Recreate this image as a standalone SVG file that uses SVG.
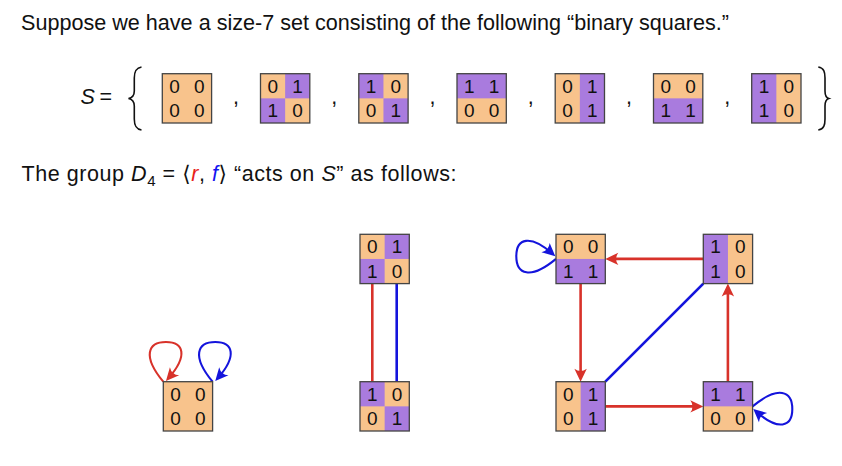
<svg xmlns="http://www.w3.org/2000/svg" width="842" height="466" viewBox="0 0 842 466">
<style>
.t{font-family:"Liberation Sans","DejaVu Sans",sans-serif;font-size:21.5px;fill:#111}
.m{font-family:"Liberation Sans","DejaVu Sans",sans-serif;font-size:21.5px;fill:#111}
.o{fill:#F8C38C}
.p{fill:#A97BDE}
.bd{fill:none;stroke:#444;stroke-width:1.3}
.d{font-family:"Liberation Sans","DejaVu Sans",sans-serif;font-size:19px;text-anchor:middle;fill:#111}
.br{fill:none;stroke:#111;stroke-width:1.6}
.er{fill:none;stroke:#D8322A;stroke-width:2.6}
.eb{fill:none;stroke:#1414DC;stroke-width:2.6}
.lr{fill:none;stroke:#D8322A;stroke-width:2.1}
.lb{fill:none;stroke:#1414DC;stroke-width:2.1}
</style>
<defs>
<marker id="arR" viewBox="-14 -8 16 16" refX="-4" refY="0" markerWidth="16" markerHeight="16" markerUnits="userSpaceOnUse" orient="auto"><path d="M0,0 L-13,-6.2 Q-8.5,0 -13,6.2 Z" fill="#D8322A"/></marker>
<marker id="arB" viewBox="-14 -8 16 16" refX="-4" refY="0" markerWidth="16" markerHeight="16" markerUnits="userSpaceOnUse" orient="auto"><path d="M0,0 L-13,-6.2 Q-8.5,0 -13,6.2 Z" fill="#1414DC"/></marker>
</defs>

<text class="t" x="21" y="30.3" textLength="708" lengthAdjust="spacingAndGlyphs">Suppose we have a size-7 set consisting of the following “binary squares.”</text>

<text class="m" x="80.5" y="104" font-style="italic">S</text>
<text class="m" x="99.5" y="104">=</text>
<path class="br" d="M141.5,67 C135.5,68 134.3,72 134.3,78 L134.3,91 C134.3,95.5 132,97.8 128.5,98.5 C132,99.2 134.3,101.5 134.3,106 L134.3,119 C134.3,125 135.5,129 141.5,130"/>
<path class="br" d="M818.3,67 C824,68 825,72 825,78 L825,91 C825,95.5 826.5,97.8 828.8,98.5 C826.5,99.2 825,101.5 825,106 L825,119 C825,125 824,129 818.3,130"/>
<g class="m" text-anchor="middle">
<text x="236" y="104">,</text>
<text x="334.3" y="104">,</text>
<text x="432.5" y="104">,</text>
<text x="530.8" y="104">,</text>
<text x="629" y="104">,</text>
<text x="727.3" y="104">,</text>
</g>

<g id="set1" transform="translate(162.3,73.7)"><rect class="o" width="49.3" height="49.3"/><rect class="bd" width="49.3" height="49.3"/><text class="d" x="12.3" y="19">0</text><text class="d" x="37" y="19">0</text><text class="d" x="12.3" y="43.6">0</text><text class="d" x="37" y="43.6">0</text></g>
<g id="set2" transform="translate(260.5,73.7)"><rect class="o" width="49.3" height="49.3"/><rect class="p" x="24.65" width="24.65" height="24.65"/><rect class="p" y="24.65" width="24.65" height="24.65"/><rect class="bd" width="49.3" height="49.3"/><text class="d" x="12.3" y="19">0</text><text class="d" x="37" y="19">1</text><text class="d" x="12.3" y="43.6">1</text><text class="d" x="37" y="43.6">0</text></g>
<g id="set3" transform="translate(358.8,73.7)"><rect class="o" width="49.3" height="49.3"/><rect class="p" width="24.65" height="24.65"/><rect class="p" x="24.65" y="24.65" width="24.65" height="24.65"/><rect class="bd" width="49.3" height="49.3"/><text class="d" x="12.3" y="19">1</text><text class="d" x="37" y="19">0</text><text class="d" x="12.3" y="43.6">0</text><text class="d" x="37" y="43.6">1</text></g>
<g id="set4" transform="translate(457,73.7)"><rect class="o" width="49.3" height="49.3"/><rect class="p" width="49.3" height="24.65"/><rect class="bd" width="49.3" height="49.3"/><text class="d" x="12.3" y="19">1</text><text class="d" x="37" y="19">1</text><text class="d" x="12.3" y="43.6">0</text><text class="d" x="37" y="43.6">0</text></g>
<g id="set5" transform="translate(555.2,73.7)"><rect class="o" width="49.3" height="49.3"/><rect class="p" x="24.65" width="24.65" height="49.3"/><rect class="bd" width="49.3" height="49.3"/><text class="d" x="12.3" y="19">0</text><text class="d" x="37" y="19">1</text><text class="d" x="12.3" y="43.6">0</text><text class="d" x="37" y="43.6">1</text></g>
<g id="set6" transform="translate(653.5,73.7)"><rect class="o" width="49.3" height="49.3"/><rect class="p" y="24.65" width="49.3" height="24.65"/><rect class="bd" width="49.3" height="49.3"/><text class="d" x="12.3" y="19">0</text><text class="d" x="37" y="19">0</text><text class="d" x="12.3" y="43.6">1</text><text class="d" x="37" y="43.6">1</text></g>
<g id="set7" transform="translate(751.7,73.7)"><rect class="o" width="49.3" height="49.3"/><rect class="p" width="24.65" height="49.3"/><rect class="bd" width="49.3" height="49.3"/><text class="d" x="12.3" y="19">1</text><text class="d" x="37" y="19">0</text><text class="d" x="12.3" y="43.6">1</text><text class="d" x="37" y="43.6">0</text></g>

<text class="t" x="21.5" y="181" textLength="435" lengthAdjust="spacing">The group <tspan font-style="italic">D</tspan><tspan dy="4.5" font-size="15">4</tspan><tspan dy="-4.5"> = ⟨</tspan><tspan font-style="italic" fill="#E8221C">r</tspan>, <tspan font-style="italic" fill="#1414F0">f</tspan>⟩ “acts on <tspan font-style="italic">S</tspan>” as follows:</text>

<g id="connectors">
<path class="lr" d="M163.3,381.7 C142,356 148,342 166,342 C184,342 188,356 168.6,378" marker-end="url(#arR)"/>
<path class="lb" d="M212.6,381.7 C191.3,356 197.3,342 215.3,342 C233.3,342 237.3,356 217.9,378" marker-end="url(#arB)"/>
<path class="er" d="M372.3,283.6 L372.3,381.7"/>
<path class="eb" d="M396.7,283.6 L396.7,381.7"/>
<path class="er" d="M703.3,258.9 L609.3,258.9" marker-end="url(#arR)"/>
<path class="er" d="M580.6,283.6 L580.6,377.7" marker-end="url(#arR)"/>
<path class="er" d="M605.3,406.4 L699.3,406.4" marker-end="url(#arR)"/>
<path class="er" d="M727.9,381.7 L727.9,287.6" marker-end="url(#arR)"/>
<path class="eb" d="M605.3,381.7 L703.3,283.6"/>
<path class="lb" d="M556,258.9 C530.3,280.2 516.3,274.2 516.3,256.2 C516.3,238.2 530.3,234.2 552.3,253.6" marker-end="url(#arB)"/>
<path class="lb" d="M752.6,406.4 C778.3,385.1 792.3,391.1 792.3,409.1 C792.3,427.1 778.3,431.1 756.3,411.7" marker-end="url(#arB)"/>
</g>

<g id="nodeA" transform="translate(163.3,381.7)"><rect class="o" width="49.3" height="49.3"/><rect class="bd" width="49.3" height="49.3"/><text class="d" x="12.3" y="19">0</text><text class="d" x="37" y="19">0</text><text class="d" x="12.3" y="43.6">0</text><text class="d" x="37" y="43.6">0</text></g>
<g id="nodeB" transform="translate(360,234.3)"><rect class="o" width="49.3" height="49.3"/><rect class="p" x="24.65" width="24.65" height="24.65"/><rect class="p" y="24.65" width="24.65" height="24.65"/><rect class="bd" width="49.3" height="49.3"/><text class="d" x="12.3" y="19">0</text><text class="d" x="37" y="19">1</text><text class="d" x="12.3" y="43.6">1</text><text class="d" x="37" y="43.6">0</text></g>
<g id="nodeC" transform="translate(360,381.7)"><rect class="o" width="49.3" height="49.3"/><rect class="p" width="24.65" height="24.65"/><rect class="p" x="24.65" y="24.65" width="24.65" height="24.65"/><rect class="bd" width="49.3" height="49.3"/><text class="d" x="12.3" y="19">1</text><text class="d" x="37" y="19">0</text><text class="d" x="12.3" y="43.6">0</text><text class="d" x="37" y="43.6">1</text></g>
<g id="nodeD" transform="translate(556,234.3)"><rect class="o" width="49.3" height="49.3"/><rect class="p" y="24.65" width="49.3" height="24.65"/><rect class="bd" width="49.3" height="49.3"/><text class="d" x="12.3" y="19">0</text><text class="d" x="37" y="19">0</text><text class="d" x="12.3" y="43.6">1</text><text class="d" x="37" y="43.6">1</text></g>
<g id="nodeE" transform="translate(556,381.7)"><rect class="o" width="49.3" height="49.3"/><rect class="p" x="24.65" width="24.65" height="49.3"/><rect class="bd" width="49.3" height="49.3"/><text class="d" x="12.3" y="19">0</text><text class="d" x="37" y="19">1</text><text class="d" x="12.3" y="43.6">0</text><text class="d" x="37" y="43.6">1</text></g>
<g id="nodeF" transform="translate(703.3,234.3)"><rect class="o" width="49.3" height="49.3"/><rect class="p" width="24.65" height="49.3"/><rect class="bd" width="49.3" height="49.3"/><text class="d" x="12.3" y="19">1</text><text class="d" x="37" y="19">0</text><text class="d" x="12.3" y="43.6">1</text><text class="d" x="37" y="43.6">0</text></g>
<g id="nodeG" transform="translate(703.3,381.7)"><rect class="o" width="49.3" height="49.3"/><rect class="p" width="49.3" height="24.65"/><rect class="bd" width="49.3" height="49.3"/><text class="d" x="12.3" y="19">1</text><text class="d" x="37" y="19">1</text><text class="d" x="12.3" y="43.6">0</text><text class="d" x="37" y="43.6">0</text></g>
</svg>
